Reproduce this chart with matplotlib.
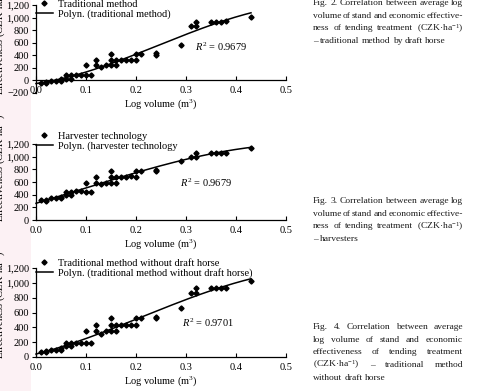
import numpy as np
import matplotlib
matplotlib.use("Agg")
import matplotlib.pyplot as plt
from matplotlib.patches import Rectangle

plt.rcParams["font.family"] = ["Liberation Serif", "DejaVu Serif"]
plt.rcParams["mathtext.fontset"] = "custom"
plt.rcParams["mathtext.rm"] = "Liberation Serif"
plt.rcParams["mathtext.it"] = "Liberation Serif:italic"

# ── Data ─────────────────────────────────────────────────────────────────────
log_volume = [0.01, 0.02, 0.02, 0.03, 0.04, 0.05, 0.05, 0.06, 0.06, 0.07, 0.07,
              0.08, 0.09, 0.10, 0.10, 0.11, 0.12, 0.12, 0.13, 0.14,
              0.15, 0.15, 0.15, 0.16, 0.16, 0.17, 0.18, 0.19, 0.20, 0.20,
              0.21, 0.24, 0.24, 0.29, 0.31, 0.32, 0.32, 0.35, 0.36, 0.37,
              0.38, 0.43]

traditional = [-40, -25, -45, -10, -10, 15, -10, 80, 30, 80, 30,
               90, 90, 240, 90, 90, 330, 240, 210, 240,
               420, 330, 240, 330, 240, 330, 330, 330, 420, 330,
               420, 435, 410, 565, 865, 935, 865, 935, 935, 935,
               940, 1010]

harvester = [310, 320, 300, 350, 350, 370, 350, 440, 390, 440, 390,
             455, 455, 590, 440, 440, 685, 590, 570, 590,
             780, 685, 590, 685, 590, 685, 685, 695, 770, 685,
             770, 790, 770, 925, 1000, 1065, 1000, 1065, 1065, 1065,
             1065, 1140]

no_horse = [65, 85, 65, 100, 100, 120, 100, 185, 145, 185, 145,
            195, 195, 345, 195, 195, 435, 345, 315, 345,
            530, 435, 345, 435, 345, 435, 435, 435, 520, 435,
            520, 545, 520, 665, 860, 935, 860, 935, 935, 935,
            935, 1020]

series_names = ["Traditional method", "Harvester technology",
                "Traditional method without draft horse"]
fit_names = ["Polyn. (traditional method)", "Polyn. (harvester technology",
             "Polyn. (traditional method without draft horse)"]
r2_texts = ["$R^2$ = 0.9679", "$R^2$ = 0.9679", "$R^2$ = 0.9701"]
y_limits = [(-200, 1200), (0, 1200), (0, 1200)]

captions = [
    ["Fig. 2. Correlation between average log",
     "volume of stand and economic effective-",
     "ness of tending treatment (CZK·ha$^{-1}$)",
     "– traditional method by draft horse"],
    ["Fig. 3. Correlation between average log",
     "volume of stand and economic effective-",
     "ness of tending treatment (CZK·ha$^{-1}$)",
     "– harvesters"],
    ["Fig. 4. Correlation between average",
     "log volume of stand and economic",
     "effectiveness of tending treatment",
     "(CZK·ha$^{-1}$) – traditional method",
     "without draft horse"],
]

# ── Layout (pixel geometry of the reference page crop) ───────────────────────
W, H = 478, 391
fig = plt.figure(figsize=(W / 100, H / 100), dpi=100, facecolor="white")

# faint pink highlight band at the left edge
fig.add_artist(Rectangle((0, 0), 31 / W, 1, transform=fig.transFigure,
                         fc="#fcf1f4", ec="none", zorder=0))

# (left, top, right, bottom) in px, legend centre y in axes coords, R2 pos
panels = [
    dict(box=(36, 5, 286, 93), leg_y=0.95, r2=(0.318, 540)),
    dict(box=(36, 144, 286, 220), leg_y=1.035, r2=(0.289, 590)),
    dict(box=(36, 268, 286, 357), leg_y=0.995, r2=(0.293, 462)),
]
cap_tops = [3, 201, 327]
FS = 7.5

x = np.array(log_volume)
for i, (yvals, p) in enumerate(zip([traditional, harvester, no_horse], panels)):
    l, t, r, b = p["box"]
    ax = fig.add_axes([l / W, 1 - b / H, (r - l) / W, (b - t) / H])
    y = np.array(yvals)
    ax.plot(x, y, ls="none", marker="D", ms=2.6, color="black",
            label=series_names[i], clip_on=False, zorder=3)
    coef = np.polyfit(x, y, 3)
    xf = np.linspace(0, x.max(), 200)
    ax.plot(xf, np.polyval(coef, xf), color="black", lw=1.1,
            label=fit_names[i], clip_on=False, zorder=2)

    ax.set_xlim(0, 0.5)
    ax.set_ylim(*y_limits[i])
    ax.set_xticks(np.arange(0, 0.51, 0.1))
    ax.set_xticklabels([f"{v:.1f}" for v in np.arange(0, 0.51, 0.1)])
    ax.set_yticks(np.arange(y_limits[i][0], 1201, 200))
    ax.set_yticklabels([f"{v:,.0f}".replace("-", "−") for v in
                        np.arange(y_limits[i][0], 1201, 200)])
    for s in ["top", "right"]:
        ax.spines[s].set_visible(False)
    for s in ["left", "bottom"]:
        ax.spines[s].set_linewidth(0.9)
    # Excel places the horizontal axis at y = 0
    ax.spines["bottom"].set_position(("data", 0))
    ax.tick_params(axis="x", direction="in", length=3, width=0.8,
                   labelsize=FS, pad=4)
    ax.tick_params(axis="y", direction="out", length=3, width=0.8,
                   labelsize=FS, pad=2)
    ax.set_xlabel("Log volume (m$^3$)", fontsize=FS, labelpad=1.5)
    ax.patch.set_alpha(0)

    ax.text(p["r2"][0], p["r2"][1], r2_texts[i], fontsize=FS,
            ha="left", va="center")

    ax.legend(loc="center left", bbox_to_anchor=(0.0, p["leg_y"]),
              frameon=False, fontsize=FS, handlelength=1.6,
              handletextpad=0.5, labelspacing=0.05, borderpad=0,
              borderaxespad=0, markerscale=1.0)

    # y label, clipped by the page edge
    fig.text(0.0, 1 - (b + 2) / H, "Effectiveness (CZK·ha$^{-1}$)",
             rotation=90, ha="center", va="bottom", fontsize=FS)

# ── Captions (justified) ─────────────────────────────────────────────────────
renderer = fig.canvas.get_renderer()
x0_px, x1_px, dy = 313, 463, 12.7
for lines, top in zip(captions, cap_tops):
    for j, line in enumerate(lines):
        ypx = top + j * dy
        words = line.split(" ")
        texts = [fig.text(0, 1 - ypx / H, w, fontsize=6.8, color="#1a1a1a",
                          ha="left", va="center") for w in words]
        widths = [tx.get_window_extent(renderer).width for tx in texts]
        last = j == len(lines) - 1
        if last or len(words) == 1:
            gap = 2.3
        else:
            gap = max(1.2, (x1_px - x0_px - sum(widths)) / (len(words) - 1))
        xp = x0_px
        for tx, w in zip(texts, widths):
            tx.set_x(xp / W)
            xp += w + gap

fig.savefig("out.png", dpi=100, facecolor="white")
